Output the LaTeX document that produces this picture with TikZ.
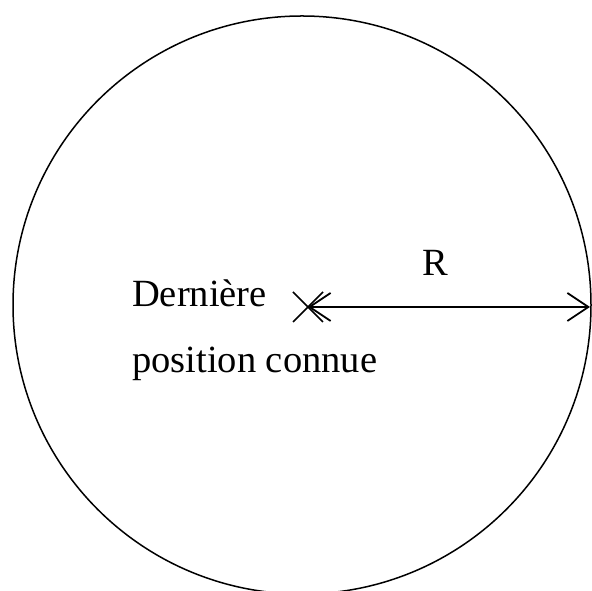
\documentclass[tikz,border=0pt]{standalone}
\usepackage{fontspec}
\setmainfont{Liberation Serif}
\usetikzlibrary{arrows.meta,calc}
\tikzset{barbtip/.tip={Straight Barb[length=21pt,width=28pt,line width=1.8pt]}}
\begin{document}
\begin{tikzpicture}[x=1pt,y=1pt,
  lbl/.style={inner sep=0pt,anchor=base west,font=\fontsize{38.5}{40}\selectfont}]
\useasboundingbox (0,0) rectangle (592,591);
\clip (0,0) rectangle (592,591);
\draw[line width=1.5pt] (302,286) circle[radius=289];
\coordinate (p) at (308,284);
\coordinate (e) at (590,284);
\draw[line width=1.7pt] ($(p)+(-15,15)$) -- ($(p)+(15,-15)$);
\draw[line width=1.7pt] ($(p)+(-15,-15)$) -- ($(p)+(15,15)$);
\draw[line width=2pt,barbtip-barbtip] (p) -- (e);
\node[lbl] (d) at (132,284) {Dernière};
\node[lbl] (pc) at (132,218) {position connue};
\node[lbl] (r) at (422,315) {R};
\end{tikzpicture}
\end{document}
